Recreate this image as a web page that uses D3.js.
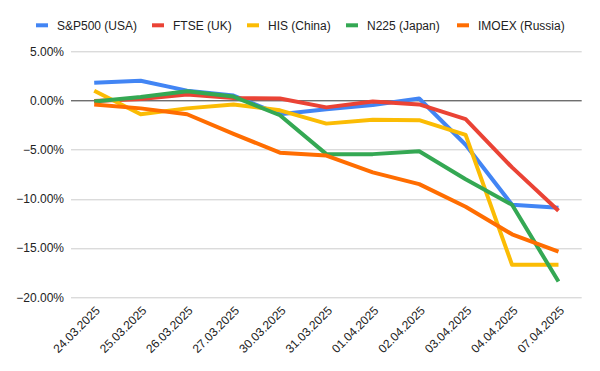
<!DOCTYPE html>
<html>
<head>
<meta charset="utf-8">
<script src="https://cdn.jsdelivr.net/npm/d3@7"></script>
<style>
  body { margin: 0; background: #fff; }
  text { font-family: Arial, "Liberation Sans", sans-serif; }
</style>
</head>
<body>
<div id="chart"></div>
<script>
// dates on the x axis
const dates = ["24.03.2025", "25.03.2025", "26.03.2025", "27.03.2025", "30.03.2025",
    "31.03.2025", "01.04.2025", "02.04.2025", "03.04.2025", "04.04.2025", "07.04.2025"];

// cumulative change, in percent
const sp500 = [1.8, 2.0, 1.0, 0.5, -1.4, -0.9, -0.45, 0.2, -4.5, -10.6, -10.9];
const ftse = [-0.05, 0.15, 0.6, 0.25, 0.2, -0.7, -0.1, -0.4, -1.9, -6.8, -11.2];
const his = [1.0, -1.4, -0.8, -0.4, -1.0, -2.35, -1.95, -2.0, -3.5, -16.7, -16.7];
const n225 = [-0.1, 0.35, 0.95, 0.4, -1.5, -5.45, -5.45, -5.15, -8.0, -10.6, -18.4];
const imoex = [-0.4, -0.8, -1.4, -3.4, -5.3, -5.6, -7.3, -8.5, -10.8, -13.6, -15.35];

const yTicks = [5, 0, -5, -10, -15, -20];

const series = [
    { name: "S&P500 (USA)", values: sp500, color: "#4285F4" },
    { name: "FTSE (UK)", values: ftse, color: "#EA4335" },
    { name: "HIS (China)", values: his, color: "#FBBC04" },
    { name: "N225 (Japan)", values: n225, color: "#34A853" },
    { name: "IMOEX (Russia)", values: imoex, color: "#FF6D01" }
];

const W = 600, H = 371;
const margin = { top: 51.3, right: 18.3, bottom: 73.7, left: 71 };
const width = W - margin.left - margin.right,
    height = H - margin.top - margin.bottom;

const svg = d3.select("#chart").append("svg")
    .attr("width", W)
    .attr("height", H);

const chart = svg.append("g")
    .attr("transform", "translate(" + margin.left + "," + margin.top + ")");

// point scale, points sit in the middle of each slot
const x = d3.scalePoint().domain(dates).range([0, width]).padding(0.5);
const y = d3.scaleLinear().domain([-20, 5]).range([height, 0]);

// grid lines
chart.append("g")
    .selectAll("line")
    .data(yTicks)
    .enter().append("line")
    .attr("x1", 0)
    .attr("x2", width)
    .attr("y1", d => Math.round(y(d)) + 0.5)
    .attr("y2", d => Math.round(y(d)) + 0.5)
    .attr("stroke", d => d === 0 ? "#333" : "#ccc")
    .attr("stroke-width", 1);

// y axis labels
const yAxis = d3.axisLeft(y)
    .tickValues(yTicks)
    .tickSize(0)
    .tickPadding(7)
    .tickFormat(d => d3.format(".2f")(d) + "%");

chart.append("g")
    .call(yAxis)
    .call(g => g.select(".domain").remove())
    .selectAll("text")
    .attr("fill", "#222")
    .style("font-size", "12px");

// x axis labels, rotated
const xAxis = d3.axisBottom(x).tickSize(0).tickPadding(0);

chart.append("g")
    .attr("transform", "translate(0," + height + ")")
    .call(xAxis)
    .call(g => g.select(".domain").remove())
    .selectAll("text")
    .attr("fill", "#222")
    .style("font-size", "12px")
    .attr("text-anchor", "end")
    .attr("dy", 0)
    .attr("transform", "translate(6,14) rotate(-45)");

// lines
const line = d3.line()
    .x((d, i) => x(dates[i]))
    .y(d => y(d));

chart.selectAll(".series")
    .data(series)
    .enter().append("path")
    .attr("class", "series")
    .attr("d", d => line(d.values))
    .attr("fill", "none")
    .attr("stroke", d => d.color)
    .attr("stroke-width", 4)
    .attr("stroke-linejoin", "round");

// legend
const legendX = [36, 152, 247, 346, 457];
const legend = svg.append("g");

const item = legend.selectAll("g")
    .data(series)
    .enter().append("g")
    .attr("transform", (d, i) => "translate(" + legendX[i] + ",25.3)");

item.append("rect")
    .attr("x", 0)
    .attr("y", -2)
    .attr("width", 12)
    .attr("height", 4)
    .attr("fill", d => d.color);

item.append("text")
    .attr("x", 21)
    .attr("y", 4.5)
    .attr("fill", "#222")
    .style("font-size", "12px")
    .text(d => d.name);
</script>
</body>
</html>
